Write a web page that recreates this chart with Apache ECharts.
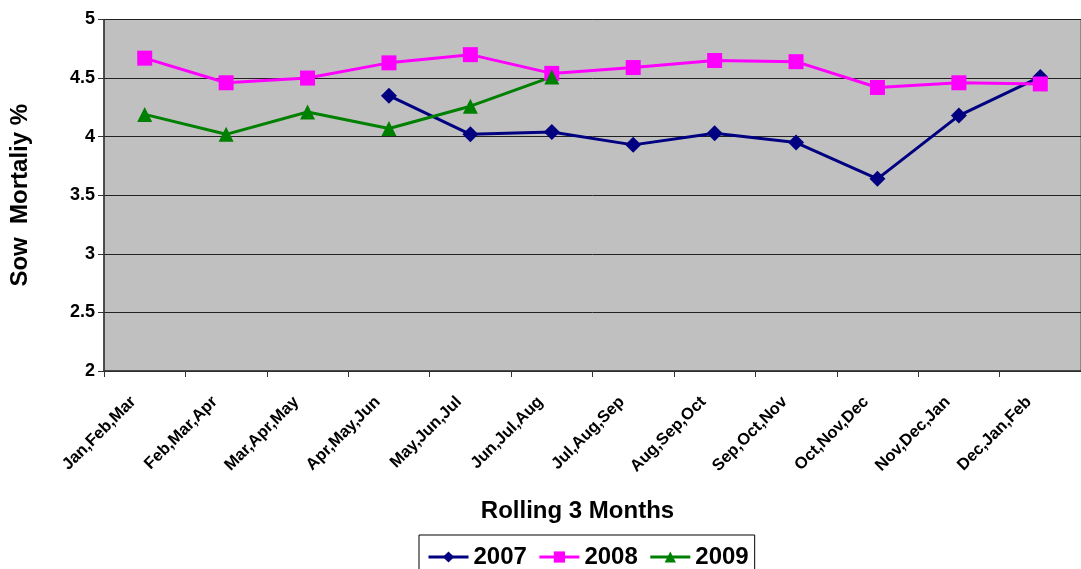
<!DOCTYPE html>
<html><head><meta charset="utf-8">
<script src="https://cdn.jsdelivr.net/npm/echarts@6/dist/echarts.min.js"></script>
<style>html,body{margin:0;padding:0;background:#fff}#c{width:1081px;height:569px}</style>
</head><body><div id="c"></div>
<script>
const categories = ['Jan,Feb,Mar','Feb,Mar,Apr','Mar,Apr,May','Apr,May,Jun','May,Jun,Jul','Jun,Jul,Aug','Jul,Aug,Sep','Aug,Sep,Oct','Sep,Oct,Nov','Oct,Nov,Dec','Nov,Dec,Jan','Dec,Jan,Feb'];
const s2007 = [null,null,null,4.35,4.02,4.04,3.93,4.03,3.95,3.64,4.18,4.51];
const s2008 = [4.67,4.46,4.50,4.63,4.70,4.54,4.59,4.65,4.64,4.42,4.46,4.45];
const s2009 = [4.19,4.02,4.21,4.07,4.26,4.51];
const yTicks = [2,2.5,3,3.5,4,4.5,5];

const FONT = 'Arial, "Liberation Sans", sans-serif';
const chart = echarts.init(document.getElementById('c'));
function mk(name, data, color, symbol, size){
  return {name, type:'line', data, symbol, symbolSize:size, showSymbol:true,
    itemStyle:{color}, lineStyle:{color, width:3}, z: 3, animation:false};
}
chart.setOption({
  animation:false,
  grid:{left:103, top:19.5, width:984, bottom:198, show:true, backgroundColor:'#c0c0c0', borderColor:'#555', borderWidth:1},
  xAxis:{type:'category', data:categories, boundaryGap:true,
    axisLine:{lineStyle:{color:'#333', width:1.5}},
    axisTick:{show:true, alignWithLabel:false, length:6, lineStyle:{color:'#333'}},
    axisLabel:{rotate:45, color:'#000', fontWeight:'bold', fontSize:16.5, fontFamily:FONT, margin:17, interval:0, padding:[0,16,0,0]},
    name:'Rolling 3 Months', nameLocation:'middle', nameGap:128,
    nameTextStyle:{color:'#000', fontWeight:'bold', fontSize:24, fontFamily:FONT, padding:[0,30,0,0]}},
  yAxis:{type:'value', min:yTicks[0], max:yTicks[yTicks.length-1], interval:0.5,
    axisLine:{show:true, lineStyle:{color:'#333', width:1.5}},
    axisTick:{show:true, length:6, lineStyle:{color:'#333'}},
    splitLine:{show:true, lineStyle:{color:'#222', width:1}},
    axisLabel:{color:'#000', fontWeight:'bold', fontSize:18, fontFamily:FONT, margin:9},
    name:'Sow  Mortaliy %', nameLocation:'middle', nameGap:72, nameRotate:90,
    nameTextStyle:{color:'#000', fontWeight:'bold', fontSize:24, fontFamily:FONT}},
  legend:{left:419, top:535, data:['2007','2008','2009'], borderColor:'#000', borderWidth:1,
    padding:[10,6,10,8], itemGap:11, itemWidth:40, itemHeight:14,
    lineStyle:{width:3},
    textStyle:{color:'#000', fontWeight:'bold', fontSize:24, fontFamily:FONT}},
  series:[
    mk('2007', s2007, '#000080', 'diamond', 16),
    mk('2008', s2008, '#ff00ff', 'rect', 15),
    mk('2009', s2009, '#008000', 'triangle', 15)
  ]
});
</script></body></html>
